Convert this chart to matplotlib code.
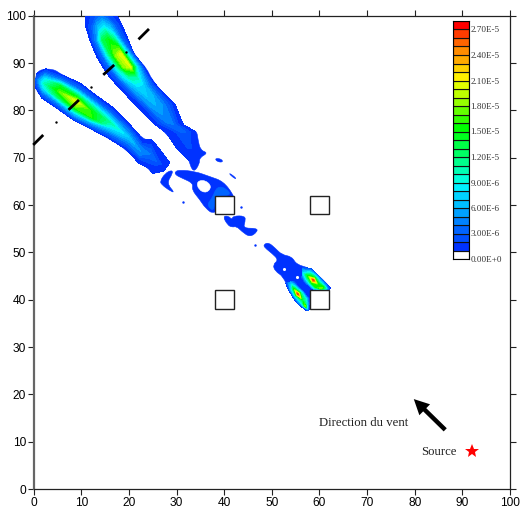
import matplotlib
matplotlib.use("Agg")
import matplotlib.pyplot as plt
import numpy as np
from matplotlib.patches import PathPatch, Rectangle
from matplotlib.path import Path

plt.rcParams["font.family"] = ["Liberation Sans", "DejaVu Sans"]

# one colour per 1E-6 step of the scale, bottom to top
band_colors = [
    "#ffffff", "#0032ff", "#0050ff", "#0064ff", "#0082ff", "#00a0ff", "#00beff",
    "#00d2ff", "#00f0ff", "#00ffdc", "#00ffb4", "#00ff8c", "#00ff64", "#00ff46",
    "#00ff1e", "#00ff00", "#32ff00", "#64ff00", "#96ff00", "#beff00", "#e1ff00",
    "#fff000", "#ffd200", "#ffaa00", "#ff8c00", "#ff6400", "#ff3c00", "#ff0000",
]
band_bottoms = [0, 1, 2, 3, 4, 5, 6, 7, 8, 9, 10, 11, 12, 13, 14, 15, 16, 17, 18, 19,
                20, 21, 22, 23, 24, 25, 26, 27]
scale_ticks = [0, 3, 6, 9, 12, 15, 18, 21, 24, 27]
scale_labels = ["0.00E+0", "3.00E-6", "6.00E-6", "9.00E-6", "1.20E-5", "1.50E-5",
                "1.80E-5", "2.10E-5", "2.40E-5", "2.70E-5"]

# outer limit of each blue patch
upper_outline = [(10.8, 99.5), (12.2, 100.6), (17.4, 100.4), (18.5, 98.1), (19.5, 95.6), (20.6, 92.8),
                 (22.0, 90.7), (23.7, 88.9), (24.8, 86.5), (27.2, 83.6), (29.7, 81.2), (30.0, 79.1),
                 (31.4, 77.0), (32.1, 75.8), (34.2, 75.8), (34.5, 73.8), (35.0, 71.6), (36.6, 71.0),
                 (34.8, 70.0), (34.8, 68.6), (33.5, 66.8), (32.5, 69.5), (32.3, 70.6), (30.0, 72.0),
                 (27.9, 75.2), (25.1, 77.3), (21.6, 80.8), (18.1, 84.7), (15.3, 87.9), (13.2, 91.4),
                 (11.8, 94.9), (10.9, 97.7)]
lower_outline = [(0.3, 86.8), (1.0, 88.6), (4.1, 88.8), (5.9, 87.5), (9.7, 85.8), (12.9, 83.3),
                 (16.4, 80.8), (20.2, 77.0), (23.0, 73.8), (24.8, 73.8), (26.5, 71.7), (28.6, 68.9),
                 (27.2, 67.1), (24.8, 66.6), (24.1, 67.8), (22.0, 68.9), (19.5, 71.7), (15.7, 74.1),
                 (11.8, 76.2), (8.3, 78.0), (4.8, 80.5), (1.7, 82.6), (0.3, 84.7)]
wake_main = [(29.7, 67.1), (30.7, 67.4), (33.9, 67.1), (37.0, 66.0), (39.8, 65.0), (41.9, 62.2),
             (41.9, 61.5), (37.9, 57.9), (36.0, 59.4), (34.9, 61.1), (33.2, 63.2), (33.5, 64.6),
             (31.1, 65.7), (29.7, 66.4)]
wake_hole = [(34.2, 65.0), (36.0, 65.3), (37.4, 63.9), (36.3, 62.5), (34.6, 63.2)]
wake_inner = [(38.5, 64.0), (40.5, 63.5), (41.5, 62.0), (38.0, 62.0), (37.9, 58.5), (36.3, 60.0),
              (37.5, 61.5)]
wake_left = [(26.5, 65.0), (27.6, 66.7), (29.0, 67.4), (29.2, 66.7), (27.9, 64.6), (29.7, 62.5),
             (28.3, 63.2), (26.9, 64.3)]
wake_top = [(38.1, 69.9), (39.5, 69.7), (39.7, 69.0), (38.4, 69.2)]
wake_sliver = [(41.2, 66.7), (42.5, 65.7), (42.3, 65.5), (41.1, 66.5)]
wake_below = [(39.7, 57.6), (40.9, 57.7), (41.6, 56.9), (41.9, 57.7), (44.4, 57.7), (44.4, 56.5),
              (44.0, 55.1), (46.8, 55.1), (47.0, 54.4), (45.4, 53.2), (43.7, 54.4), (42.6, 55.5),
              (41.6, 55.3), (40.7, 55.8)]
wake_dots_x = [31.3, 43.5, 46.5]
wake_dots_y = [60.6, 59.6, 51.5]
cluster_outline = [(48.2, 51.6), (49.3, 52.1), (50.7, 50.9), (52.1, 49.5), (54.2, 49.1), (55.2, 47.4),
                   (58.0, 46.7), (60.8, 44.2), (62.4, 42.4), (61.5, 42.1), (58.0, 42.0), (57.9, 37.9),
                   (57.3, 37.7), (55.2, 39.3), (53.5, 42.1), (52.4, 44.9), (50.7, 46.0), (50.2, 47.4),
                   (51.4, 48.4), (50.0, 49.8), (48.6, 50.9)]
cluster_holes_x = [55.2, 52.6]
cluster_holes_y = [44.8, 46.4]

# level, outline - painted in this order
patches = [
    (1, upper_outline), (1, lower_outline), (1, wake_main), (0, wake_hole), (3, wake_inner),
    (1, wake_left), (1, wake_top), (1, wake_sliver), (1, wake_below), (1, cluster_outline),
]

# plumes and lobes: cross sections, each one from side_a to side_b, values in 1E-6
upper_a = [(10.8, 99.9), (10.9, 97.7), (11.8, 94.9), (13.2, 91.4), (14.6, 89.0), (16.0, 86.9),
           (18.1, 84.7), (21.6, 80.8), (25.1, 77.3), (27.9, 75.2), (30.0, 72.0), (32.5, 69.5)]
upper_b = [(17.6, 99.9), (18.5, 98.1), (19.8, 95.0), (21.0, 92.0), (23.2, 89.2), (24.3, 87.2),
           (25.8, 85.2), (29.7, 81.2), (31.4, 77.0), (33.9, 75.5), (34.6, 72.0), (34.6, 68.8)]
upper_values = [[1, 2, 3, 4, 3, 2, 1],
                [1, 3, 6, 8, 6, 3, 1],
                [1, 5, 13, 15, 11, 4, 1],
                [1, 4, 11, 18, 21, 9, 1],
                [1, 4, 10, 18, 20, 8, 1],
                [1, 3, 8, 11, 11, 6, 1],
                [1, 3, 6, 8, 7, 4, 1],
                [1, 2, 5, 6, 5, 3, 1],
                [1, 2, 3, 4, 4, 2, 1],
                [1, 2, 2, 3, 3, 2, 1],
                [1, 1, 2, 2, 2, 1, 1],
                [1, 1, 1, 1, 1, 1, 1]]

lower_a = [(0.6, 87.8), (2.5, 88.8), (5.9, 87.5), (9.7, 85.8), (12.9, 83.3), (16.4, 80.8),
           (20.2, 77.0), (23.0, 73.8), (24.8, 73.8), (26.5, 71.7), (28.6, 68.9)]
lower_b = [(0.3, 85.0), (1.7, 82.6), (4.8, 80.5), (8.3, 78.0), (11.8, 76.2), (15.7, 74.1),
           (19.5, 71.7), (22.0, 68.9), (24.1, 67.8), (25.0, 66.7), (27.2, 67.1)]
lower_values = [[1, 2, 2, 3, 2, 2, 1],
                [1, 4, 8, 10, 8, 4, 1],
                [1, 5, 14, 17, 13, 5, 1],
                [1, 4, 12, 21, 17, 7, 1],
                [1, 4, 10, 15, 16, 6, 1],
                [1, 3, 7, 11, 8, 4, 1],
                [1, 3, 5, 7, 5, 3, 1],
                [1, 2, 4, 5, 4, 2, 1],
                [1, 2, 3, 4, 3, 2, 1],
                [1, 2, 2, 3, 2, 2, 1],
                [1, 1, 1, 1, 1, 1, 1]]

right_a = [(56.5, 46.9), (58.3, 46.5), (59.4, 45.5), (60.5, 44.4), (61.5, 43.3), (62.4, 42.4)]
right_b = [(56.3, 44.5), (57.0, 43.5), (58.0, 42.8), (58.8, 42.1), (60.0, 42.05), (61.5, 42.05)]
right_values = [[2, 5, 7, 5, 2],
                [2, 9, 16, 9, 2],
                [2, 12, 27, 14, 4],
                [2, 9, 16, 15, 4],
                [2, 7, 16, 18, 4],
                [1, 2, 3, 3, 2]]

left_a = [(54.9, 44.0), (55.6, 42.7), (56.6, 41.7), (57.7, 40.3), (57.8, 38.8), (57.9, 37.9)]
left_b = [(52.9, 43.5), (53.5, 42.1), (54.3, 40.7), (55.2, 39.4), (56.2, 38.5), (57.3, 37.7)]
left_values = [[1, 3, 5, 4, 1],
               [2, 9, 14, 8, 1],
               [3, 12, 27, 10, 1],
               [3, 10, 13, 8, 1],
               [3, 8, 18, 6, 1],
               [1, 2, 3, 2, 1]]

block_centres = [(40, 60), (60, 60), (40, 40), (60, 40)]
block_size = 4

# black dashes across the top left, and the lone dots between them
dash_x = [(-0.1, 2.0), (7.3, 9.5), (14.6, 16.9), (22.0, 24.2)]
dash_y = [(72.7, 74.8), (80.1, 82.2), (87.5, 89.6), (95.0, 97.2)]
dot_x = [4.6, 12.0, 19.3]
dot_y = [77.5, 84.9, 92.4]

ticks = [0, 10, 20, 30, 40, 50, 60, 70, 80, 90, 100]


def rounded_path(outline):
    # quadratic curves through the edge midpoints, corners become control points
    pts = np.array(outline, dtype=float)
    mids = (pts + np.roll(pts, -1, axis=0)) / 2
    verts = [mids[-1]]
    codes = [Path.MOVETO]
    for i in range(len(pts)):
        verts += [pts[i], mids[i]]
        codes += [Path.CURVE3, Path.CURVE3]
    return Path(verts, codes)


def draw_sections(ax, side_a, side_b, values):
    a = np.array(side_a)
    b = np.array(side_b)
    z = np.array(values, dtype=float)
    s = np.linspace(0, 1, z.shape[1])[None, :]
    x = a[:, 0, None] * (1 - s) + b[:, 0, None] * s
    y = a[:, 1, None] * (1 - s) + b[:, 1, None] * s
    # white band left out, the sections never go below level 1
    ax.contourf(x, y, z, levels=band_bottoms[1:] + [28], colors=band_colors[1:], zorder=3)


fig = plt.figure(figsize=(5.2, 5.08), dpi=100)
ax = fig.add_axes([33.7 / 520, 19 / 508, 476.3 / 520, 473.3 / 508])

for level, outline in patches:
    ax.add_patch(PathPatch(rounded_path(outline), facecolor=band_colors[level],
                           edgecolor=band_colors[level], lw=0.4, zorder=2))

draw_sections(ax, upper_a, upper_b, upper_values)
draw_sections(ax, lower_a, lower_b, lower_values)
draw_sections(ax, right_a, right_b, right_values)
draw_sections(ax, left_a, left_b, left_values)

ax.scatter(wake_dots_x, wake_dots_y, s=3, color=band_colors[1], lw=0, zorder=2)
ax.scatter(cluster_holes_x, cluster_holes_y, s=5, color="white", lw=0, zorder=4)

for cx, cy in block_centres:
    ax.add_patch(Rectangle((cx - block_size / 2, cy - block_size / 2), block_size, block_size,
                           facecolor="white", edgecolor="#222222", lw=1, zorder=4))

for xs, ys in zip(dash_x, dash_y):
    ax.plot(xs, ys, color="black", lw=2, solid_capstyle="butt", clip_on=False, zorder=5)
ax.scatter(dot_x, dot_y, s=3, color="black", lw=0, zorder=5)

ax.annotate("", xy=(79.8, 19.0), xytext=(86.4, 12.5),
            arrowprops=dict(facecolor="black", edgecolor="black", width=3.2, headwidth=11,
                            headlength=11, shrink=0, lw=0))
ax.plot([92], [8], marker="*", color="red", ms=10, mew=0, zorder=5)
ax.text(59.9, 13.9, "Direction du vent", family="Liberation Serif", fontsize=9.2,
        color="#222222", va="center")
ax.text(81.3, 7.9, "Source", family="Liberation Serif", fontsize=9.2, color="#222222", va="center")

ax.set_xlim(0, 100)
ax.set_ylim(0, 100)
ax.set_xticks(ticks)
ax.set_yticks(ticks)
ax.tick_params(axis="both", which="major", direction="out", length=4, width=0.8,
               labelsize=8.6, pad=1.5, top=True, right=True, color="#222222")
for side in ["top", "right", "bottom"]:
    ax.spines[side].set_linewidth(0.9)
    ax.spines[side].set_color("#222222")
ax.spines["left"].set_linewidth(1.6)
ax.spines["left"].set_color("#666666")

cax = fig.add_axes([453 / 520, (508 - 259) / 508, 16 / 520, 238 / 508])
cax.bar([0] * len(band_bottoms), [1] * len(band_bottoms), bottom=band_bottoms, width=1,
        color=band_colors, edgecolor="#111111", linewidth=0.8)
cax.set_xlim(-0.5, 0.5)
cax.set_ylim(0, 28)
cax.set_xticks([])
cax.yaxis.tick_right()
cax.set_yticks(scale_ticks)
cax.set_yticklabels(scale_labels, family="Liberation Serif", fontsize=6.6, color="#333333")
cax.tick_params(axis="y", length=0, pad=1)
for spine in cax.spines.values():
    spine.set_linewidth(0.8)

fig.savefig("out.png", dpi=100)
